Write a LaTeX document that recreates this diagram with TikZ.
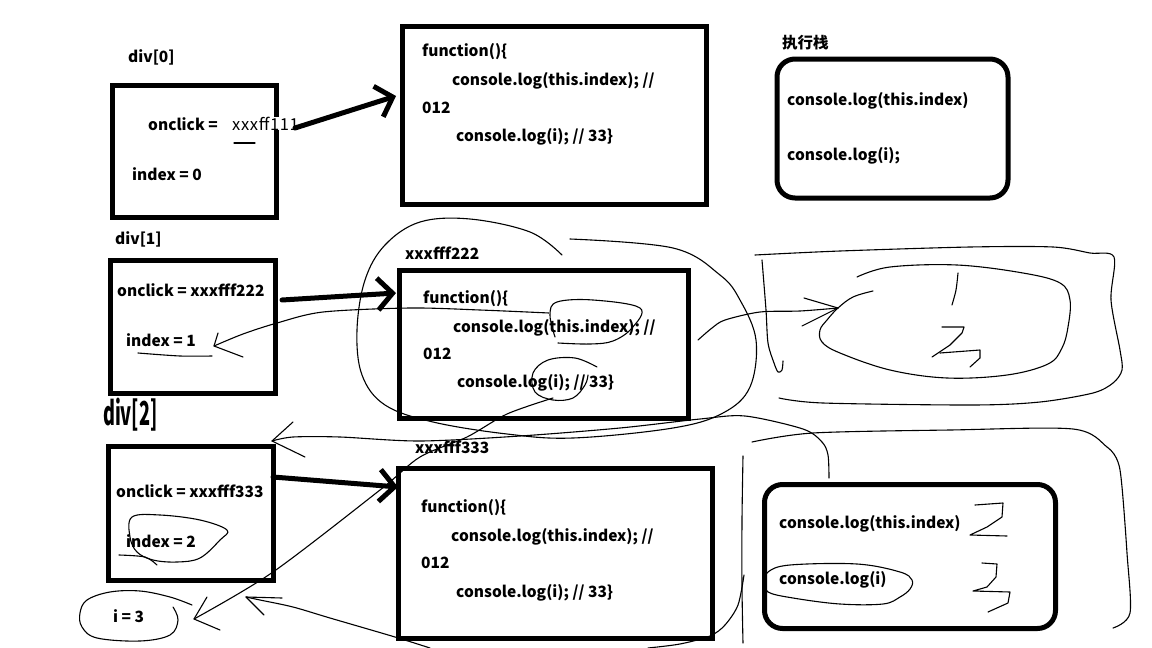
\documentclass[tikz,border=0pt]{standalone}
\usepackage{fontspec}
\newfontfamily\hf{Noto Sans CJK SC}
\usetikzlibrary{arrows.meta}
\begin{document}
\begin{tikzpicture}[x=1pt,y=-1pt,
  frame/.style={draw, line width=5pt, anchor=north west, inner sep=0pt},
  stackbox/.style={frame, rounded corners=18pt},
  lbl/.style={anchor=base west, inner sep=0pt, font=\hf\bfseries\fontsize{15.5}{18}\selectfont},
  thin lbl/.style={lbl, font=\hf\fontsize{16.5}{18}\selectfont},
  pointer/.style={line width=5pt, line cap=round, -{Straight Barb[length=15pt,width=32pt]}},
  hand/.style={line width=1.1pt, line cap=round, line join=round},
]
\useasboundingbox (0,0) rectangle (1152,648);

% ---------- element objects ----------
\node[frame, minimum width=164.5pt, minimum height=132.5pt] (div0) at (109.5,82.5) {};
\node[frame, minimum width=165pt, minimum height=133pt] (div1) at (108,258) {};
\node[frame, minimum width=165pt, minimum height=134pt] (div2) at (105.5,443.5) {};

\node[lbl] (div0name) at (128,62) {div[0]};
\node[lbl] (div1name) at (115,244) {div[1]};
\node[anchor=base west, inner sep=0pt] (div2name) at (103,425)
  {\scalebox{0.55}[1]{\hf\bfseries\fontsize{33}{33}\selectfont div[2]}};

\node[lbl] (on0) at (148,130) {onclick =};
\node[thin lbl, fill=white] (ref0) at (232,130) {\addfontfeature{LetterSpace=4}xxxff111};
\node[lbl] (idx0) at (132,180) {index = 0};

\node[lbl] (on1) at (117,296) {onclick = xxxfff222};
\node[lbl] (idx1) at (126,346) {index = 1};

\node[lbl] (on2) at (116,497) {onclick = xxxfff333};
\node[lbl] (idx2) at (126,547) {index = 2};

\node[lbl] (ivar) at (113,622) {i = 3};

% ---------- function objects ----------
\node[frame, minimum width=304pt, minimum height=178pt] (fn1) at (400,24) {};
\node[frame, minimum width=288.5pt, minimum height=148pt] (fn2) at (397,267.5) {};
\node[frame, minimum width=313.5pt, minimum height=170pt] (fn3) at (396,465.5) {};

\node[lbl] (fn2name) at (405,259) {xxxfff222};
\node[lbl] (fn3name) at (415,453) {xxxfff333};

\node[lbl] (f1a) at (422,56) {function()\{};
\node[lbl] (f1b) at (452,85) {console.log(this.index); //};
\node[lbl] (f1c) at (422,113) {012};
\node[lbl] (f1d) at (456,141) {console.log(i); // 33\}};

\node[lbl] (f2a) at (423,303) {function()\{};
\node[lbl] (f2b) at (453,332) {console.log(this.index); //};
\node[lbl] (f2c) at (423,359) {012};
\node[lbl] (f2d) at (457,387) {console.log(i); // 33\}};

\node[lbl] (f3a) at (421,512) {function()\{};
\node[lbl] (f3b) at (451,541) {console.log(this.index); //};
\node[lbl] (f3c) at (421,568) {012};
\node[lbl] (f3d) at (456,597) {console.log(i); // 33\}};

% ---------- execution stacks ----------
\node[stackbox, minimum width=231pt, minimum height=139pt] (stackA) at (774.5,56.5) {};
\node[lbl] (stackname) at (782,48) {执行栈};
\node[lbl] (sA1) at (787,105) {console.log(this.index)};
\node[lbl] (sA2) at (787,160) {console.log(i);};

\node[stackbox, minimum width=291pt, minimum height=144pt] (stackB) at (762,482) {};
\node[lbl] (sB1) at (779,528) {console.log(this.index)};
\node[lbl] (sB2) at (779,584) {console.log(i)};

% ---------- onclick references ----------
\coordinate (p0s) at (295,128);  \coordinate (p0e) at (396,96);
\coordinate (p1s) at (282,300);  \coordinate (p1e) at (396,293);
\coordinate (p2s) at (273,477);  \coordinate (p2e) at (398,487);
\draw[pointer] (p0s) -- (p0e);
\draw[pointer] (p1s) -- (p1e);
\draw[pointer] (p2s) -- (p2e);

% ---------- freehand annotations ----------
\draw[hand] (234,143) -- (255,143);
\draw[hand] plot[smooth] coordinates {(138,353) (180,356) (212,356)};

% scope loop around xxxfff222
\draw[hand] plot[smooth, tension=0.6] coordinates {(562,255) (530,232) (470,219) (420,222) (385,245) (365,280) (357,330) (362,375) (385,405) (433,422) (507,434) (573,438) (673,428) (723,413) (750,387) (756,340) (740,300) (720,275) (673,248) (570,239)};

% ring around this.index and i
\draw[hand] plot[smooth, tension=0.6] coordinates {(555,337) (550,315) (557,302) (593,300) (640,308) (632,328) (613,341) (590,344) (558,343)};
\draw[hand] plot[smooth, tension=0.6] coordinates {(597,367) (575,358) (548,360) (533,373) (535,392) (553,400) (573,398) (585,385) (588,375)};

% this.index -> index = 1
\coordinate (t1) at (214,346);
\draw[hand] plot[smooth, tension=0.5] coordinates {(549,313) (480,310) (410,308) (323,312) (277,323) (243,334) (214,346)};
\draw[hand] (218,333) -- (t1) -- (243,357);

% i -> i = 3
\coordinate (t3) at (194,619);
\draw[hand] plot[smooth, tension=0.5] coordinates {(553,398) (507,414) (467,437) (420,457) (380,490) (273,572) (194,619)};
\draw[hand] (207,597) -- (t3) -- (220,630);

% fn2 -> stack frame
\coordinate (tr) at (838,308);
\draw[hand] plot[smooth, tension=0.5] coordinates {(698,340) (712,328) (725,320) (760,312) (800,311) (838,308)};
\draw[hand] (804,298) -- (tr) -- (802,326);

% result bubble
\draw[hand] plot[smooth, tension=0.6] coordinates {(857,277) (890,267) (957,265) (1023,273) (1060,283) (1070,300) (1068,327) (1062,348) (1048,364) (1007,375) (947,378) (890,370) (840,353) (822,342) (820,330) (827,320) (838,308) (853,297) (873,291)};
\draw[hand] plot[smooth] coordinates {(958,273) (956,290) (952,305)};
\draw[hand] (942,327) -- (964,327) -- (962,333) -- (950,345) -- (932,357);
\draw[hand] (940,353) -- (980,350) -- (980,358) -- (970,367);

% upper right enclosure
\draw[hand] plot[smooth, tension=0.5] coordinates {(755,255) (840,251) (970,247) (1053,247) (1090,253) (1114,257) (1111,300) (1120,350) (1122,370) (1113,383) (1093,393) (1040,402) (973,405) (823,403) (779,398)};
\draw[hand] plot[smooth, tension=0.5] coordinates {(762,260) (766,310) (768,343) (774,363) (778,372) (782,370) (783,361)};

% this -> div[2]
\coordinate (t2) at (272,441);
\draw[hand] plot[smooth, tension=0.5] coordinates {(272,441) (293,437) (340,437) (420,441) (520,436) (620,428) (700,419) (745,416) (803,429) (822,442) (828,455) (829,478)};
\draw[hand] (293,422) -- (t2) -- (305,457);

% lower right enclosure
\draw[hand] plot[smooth, tension=0.5] coordinates {(752,442) (813,433) (950,430) (1073,429) (1107,447) (1118,462) (1122,487) (1127,553) (1130,613) (1113,628)};
\draw[hand] plot[smooth, tension=0.5] coordinates {(743,456) (742,520) (742,587) (743,643)};
\draw[hand] plot[smooth, tension=0.5] coordinates {(744,575) (738,605) (725,625) (710,636) (680,644) (648,648)};

% fn3 -> i = 3
\coordinate (t4) at (246,597);
\draw[hand] plot[smooth, tension=0.5] coordinates {(430,648) (395,637) (330,618) (293,607) (260,600) (246,597)};
\draw[hand] (282,598) -- (t4) -- (264,615);

% rings in div[2] and around i = 3
\draw[hand] plot[smooth cycle, tension=0.6] coordinates {(132,517) (160,515) (200,520) (227,530) (220,540) (200,558) (177,562) (153,560) (137,552) (130,537)};
\draw[hand] plot[smooth] coordinates {(119,555) (145,557) (157,565)};
\draw[hand] plot[smooth, tension=0.6] coordinates {(192,605) (170,597) (140,591) (110,592) (87,600) (80,613) (82,627) (97,638) (140,641) (170,635) (178,620) (173,607)};

% values written in the lower stack
\draw[hand] (975,505) -- (1003,503) -- (1002,517) -- (987,527) -- (970,535) -- (1007,536);
\draw[hand] (982,563) -- (997,564) -- (996,577) -- (987,587) -- (973,591) -- (1010,592) -- (1008,603) -- (988,612);
\draw[hand] plot[smooth cycle, tension=0.6] coordinates {(768,572) (790,565) (857,564) (900,572) (912,580) (910,589) (900,597) (883,604) (840,604) (793,598) (768,592) (766,582)};
\end{tikzpicture}
\end{document}
